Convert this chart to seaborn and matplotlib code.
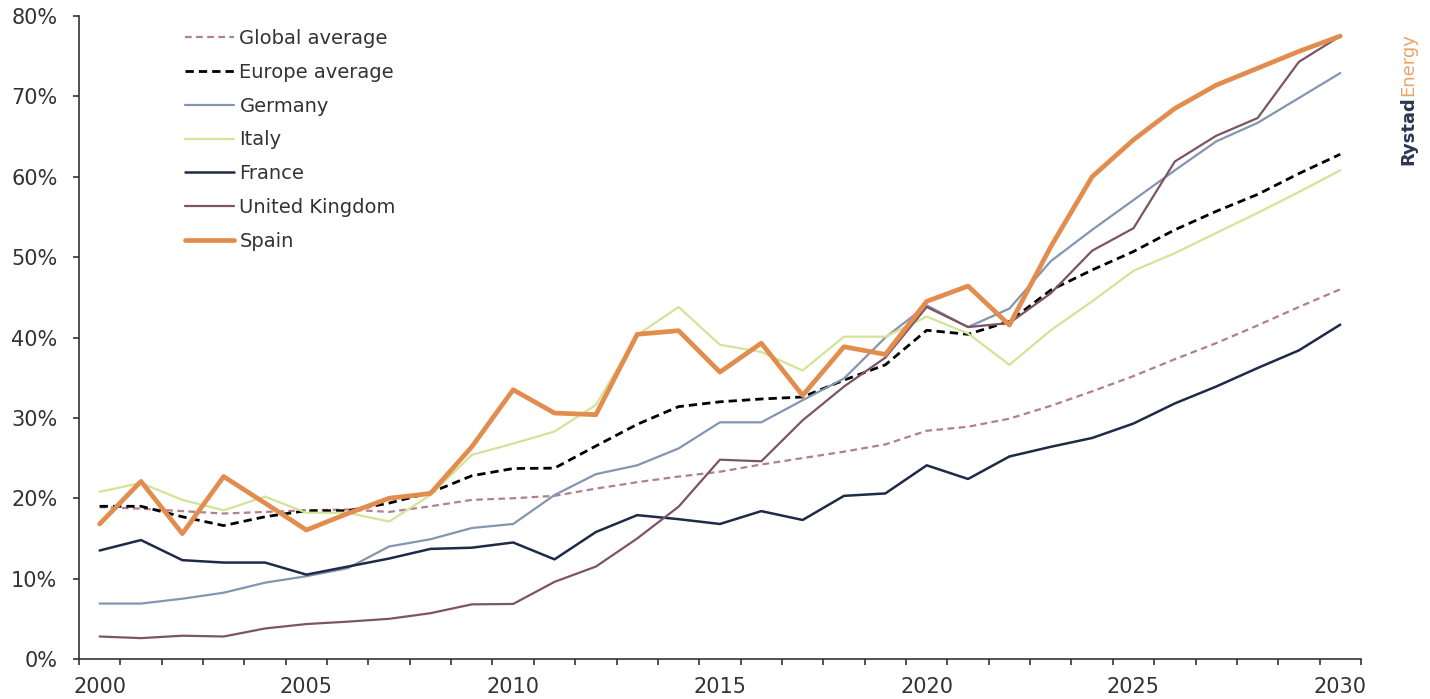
import matplotlib
matplotlib.use("Agg")
import matplotlib.pyplot as plt
import matplotlib.ticker as ticker
import seaborn as sns
import pandas as pd

years = list(range(2000, 2031))

global_avg = [18.9, 18.7, 18.4, 18.1, 18.3, 18.5, 18.6, 18.3, 19.0, 19.8,
              20.0, 20.3, 21.2, 22.0, 22.7, 23.3, 24.2, 25.0, 25.8, 26.7,
              28.4, 28.9, 29.9, 31.5, 33.3, 35.2, 37.3, 39.3, 41.5, 43.8, 46.0]
europe_avg = [19.0, 19.0, 17.7, 16.6, 17.7, 18.45, 18.45, 19.4, 20.7, 22.8,
              23.7, 23.75, 26.5, 29.2, 31.4, 32.0, 32.35, 32.6, 34.7, 36.6,
              40.9, 40.4, 42.0, 45.9, 48.4, 50.7, 53.4, 55.7, 57.8, 60.4, 62.8]
germany = [6.9, 6.9, 7.5, 8.25, 9.5, 10.3, 11.3, 14.0, 14.9, 16.3,
           16.8, 20.4, 23.0, 24.1, 26.2, 29.45, 29.45, 32.2, 34.9, 40.0,
           44.0, 41.3, 43.6, 49.5, 53.4, 57.1, 60.8, 64.4, 66.7, 69.8, 72.9]
italy = [20.8, 21.9, 19.8, 18.5, 20.2, 18.2, 18.2, 17.1, 20.4, 25.4,
         26.8, 28.3, 31.6, 40.3, 43.8, 39.1, 38.2, 35.9, 40.1, 40.1,
         42.6, 40.5, 36.6, 40.9, 44.5, 48.3, 50.5, 53.0, 55.5, 58.1, 60.8]
france = [13.5, 14.8, 12.3, 12.0, 12.0, 10.5, 11.5, 12.5, 13.7, 13.85,
          14.5, 12.4, 15.8, 17.9, 17.4, 16.8, 18.4, 17.3, 20.3, 20.6,
          24.1, 22.4, 25.2, 26.4, 27.5, 29.3, 31.8, 33.9, 36.2, 38.4, 41.6]
uk = [2.8, 2.6, 2.9, 2.8, 3.8, 4.35, 4.65, 5.0, 5.7, 6.8,
      6.85, 9.6, 11.5, 15.0, 18.95, 24.8, 24.6, 29.7, 33.9, 37.5,
      43.8, 41.3, 41.8, 45.5, 50.8, 53.6, 61.9, 65.1, 67.3, 74.3, 77.5]
spain = [16.8, 22.1, 15.6, 22.7, 19.4, 16.05, 18.1, 20.0, 20.6, 26.4,
         33.5, 30.6, 30.4, 40.4, 40.85, 35.7, 39.3, 32.8, 38.85, 37.9,
         44.5, 46.4, 41.55, 51.3, 60.0, 64.6, 68.5, 71.4, 73.5, 75.6, 77.5]

series_names = ["Global average", "Europe average", "Germany", "Italy",
                "France", "United Kingdom", "Spain"]
series_values = [global_avg, europe_avg, germany, italy, france, uk, spain]

palette = {
    "Global average": "#B27F8E",
    "Europe average": "#000000",
    "Germany": "#8395B0",
    "Italy": "#D2E497",
    "France": "#1E2A48",
    "United Kingdom": "#7D5462",
    "Spain": "#E28C4E",
}
dashes = {
    "Global average": (3, 2),
    "Europe average": (3, 1.8),
    "Germany": "",
    "Italy": "",
    "France": "",
    "United Kingdom": "",
    "Spain": "",
}
widths = {
    "Global average": 1.6,
    "Europe average": 2.0,
    "Germany": 1.6,
    "Italy": 1.6,
    "France": 1.8,
    "United Kingdom": 1.6,
    "Spain": 3.4,
}


def main():
    df = pd.DataFrame(
        [(name, y, v) for name, vals in zip(series_names, series_values)
         for y, v in zip(years, vals)],
        columns=["series", "year", "share"],
    )
    sns.set_style("white")
    plt.rcParams["font.family"] = ["DejaVu Sans"]

    fig = plt.figure(figsize=(14.3, 6.99), dpi=100)
    ax = fig.add_axes([0.0552, 0.0572, 0.8965, 0.9199])

    sns.lineplot(data=df, x="year", y="share", hue="series", style="series",
                 size="series", hue_order=series_names, style_order=series_names,
                 size_order=series_names, palette=palette, dashes=dashes,
                 sizes=widths, ax=ax)

    ax.set_xlim(1999.5, 2030.5)
    ax.set_ylim(0, 80)
    ax.xaxis.set_major_locator(ticker.MultipleLocator(5))
    ax.xaxis.set_minor_locator(ticker.FixedLocator([y - 0.5 for y in years] + [2030.5]))
    ax.yaxis.set_major_locator(ticker.MultipleLocator(10))
    ax.yaxis.set_major_formatter(lambda v, _: f"{v:.0f}%")
    ax.tick_params(axis="x", which="major", length=0, pad=13, labelsize=15,
                   colors="#333333")
    ax.tick_params(axis="x", which="minor", length=4.5, width=1.2, direction="out",
                   color="#333333", bottom=True)
    ax.tick_params(axis="y", length=4.5, width=1.2, direction="out", pad=11,
                   labelsize=15, colors="#333333", left=True)
    ax.set_xlabel("")
    ax.set_ylabel("")
    sns.despine(ax=ax)
    for side in ["left", "bottom"]:
        ax.spines[side].set_color("#333333")
        ax.spines[side].set_linewidth(1.2)

    handles, labels = ax.get_legend_handles_labels()
    ax.legend(handles, labels, loc="upper left",
              bbox_to_anchor=(185 / 1430, 1 - 29 / 699),
              bbox_transform=fig.transFigure, frameon=False, fontsize=14,
              handlelength=2.5, handletextpad=0.3, labelspacing=0.76,
              borderpad=0, borderaxespad=0, labelcolor="#333333")

    t1 = fig.text(1408 / 1430, 1 - 165 / 699, "Rystad", rotation=90,
                  ha="center", va="bottom", fontsize=13, fontweight="bold",
                  color="#2B3552")
    fig.canvas.draw()
    bb = t1.get_window_extent()
    fig.text(1408 / 1430, bb.y1 / fig.bbox.height, "Energy", rotation=90,
             ha="center", va="bottom", fontsize=13, color="#E8A466")

    fig.savefig("out.png", dpi=100)


if __name__ == "__main__":
    main()
